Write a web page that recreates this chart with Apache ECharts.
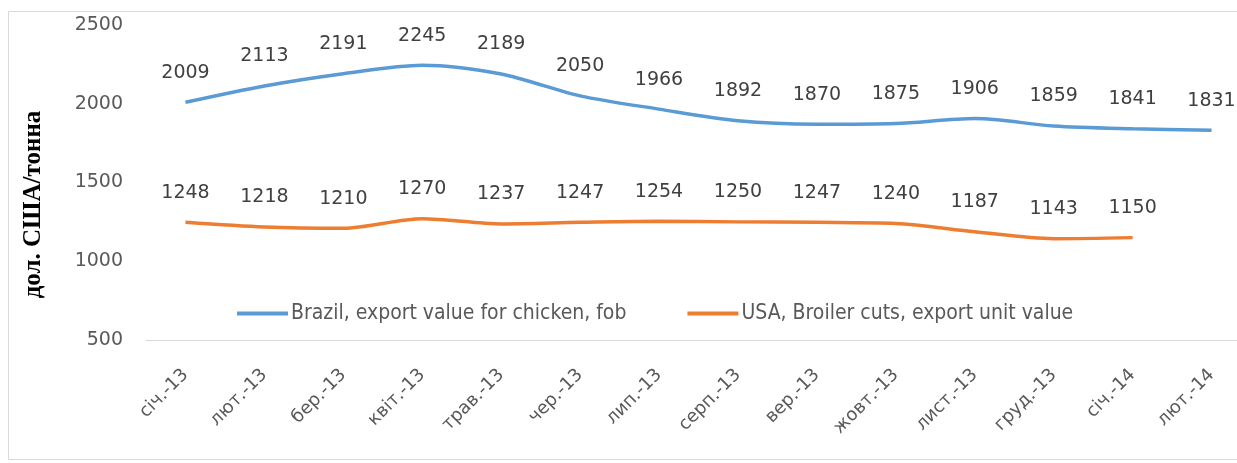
<!DOCTYPE html>
<html>
<head>
<meta charset="utf-8">
<script src="https://cdn.jsdelivr.net/npm/echarts@6/dist/echarts.min.js"></script>
<style>
    html, body { margin: 0; padding: 0; background: #ffffff; }
    #chart { width: 1237px; height: 463px; }
</style>
</head>
<body>
<div id="chart"></div>
<script>
  // months (x axis)
  var months = ['січ.-13', 'лют.-13', 'бер.-13', 'квіт.-13', 'трав.-13', 'чер.-13', 'лип.-13',
    'серп.-13', 'вер.-13', 'жовт.-13', 'лист.-13', 'груд.-13', 'січ.-14', 'лют.-14'];
  var brazil = [2009, 2113, 2191, 2245, 2189, 2050, 1966, 1892, 1870, 1875, 1906, 1859, 1841, 1831];
  var usa = [1248, 1218, 1210, 1270, 1237, 1247, 1254, 1250, 1247, 1240, 1187, 1143, 1150, null];
  var seriesNames = ['Brazil, export value for chicken, fob', 'USA, Broiler cuts, export unit value'];
  var yTitle = 'дол. США/тонна';

  var myChart = echarts.init(document.getElementById('chart'));
  var numFont = 'DejaVu Sans';

  var option = {
    backgroundColor: '#ffffff',
    animation: false,
    graphic: [{
      type: 'rect',
      shape: { x: 8.5, y: 11.5, width: 1260, height: 448 },
      style: { fill: 'none', stroke: '#d9d9d9', lineWidth: 1 },
      silent: true
    }],
    grid: { left: 146, top: 25, width: 1105, height: 315, outerBoundsMode: 'none', containLabel: false },
    legend: {
      left: 232,
      top: 298,
      itemWidth: 51,
      itemHeight: 4,
      itemGap: 61,
      icon: 'rect',
      textStyle: { fontFamily: 'Liberation Sans Narrow, DejaVu Sans Condensed, sans-serif', fontSize: 21, color: '#595959', padding: [0, 0, 0, -2] },
      data: seriesNames
    },
    xAxis: {
      type: 'category',
      data: months,
      boundaryGap: true,
      axisLine: { show: true, lineStyle: { color: '#d9d9d9', width: 1 } },
      axisTick: { show: false },
      axisLabel: {
        rotate: 45,
        interval: 0,
        margin: 32,
        fontFamily: numFont,
        fontSize: 18,
        color: '#595959'
      }
    },
    yAxis: {
      type: 'value',
      min: 500,
      max: 2500,
      interval: 500,
      name: yTitle,
      nameLocation: 'middle',
      nameRotate: 90,
      nameGap: 100,
      nameTextStyle: {
        fontFamily: 'Liberation Serif, serif', fontWeight: 'bold', fontSize: 25, color: '#000000',
        padding: [0, 44, 0, 0]
      },
      axisLine: { show: false },
      axisTick: { show: false },
      splitLine: { show: false },
      axisLabel: {
        margin: 23, fontFamily: numFont, fontSize: 19, color: '#595959',
        formatter: function (v) { return String(v); }
      }
    },
    series: [{
      name: seriesNames[0],
      type: 'line',
      data: brazil,
      smooth: 0.3,
      symbol: 'circle',
      symbolSize: 0,
      showSymbol: true,
      lineStyle: { width: 3.5, color: '#5b9bd5' },
      itemStyle: { color: '#5b9bd5' },
      label: { show: true, position: 'top', distance: 20, fontFamily: numFont, fontSize: 19, color: '#404040' }
    }, {
      name: seriesNames[1],
      type: 'line',
      data: usa,
      smooth: 0.3,
      symbol: 'circle',
      symbolSize: 0,
      showSymbol: true,
      lineStyle: { width: 3.5, color: '#ed7d31' },
      itemStyle: { color: '#ed7d31' },
      label: { show: true, position: 'top', distance: 20, fontFamily: numFont, fontSize: 19, color: '#404040' }
    }]
  };

  myChart.setOption(option);
</script>
</body>
</html>
